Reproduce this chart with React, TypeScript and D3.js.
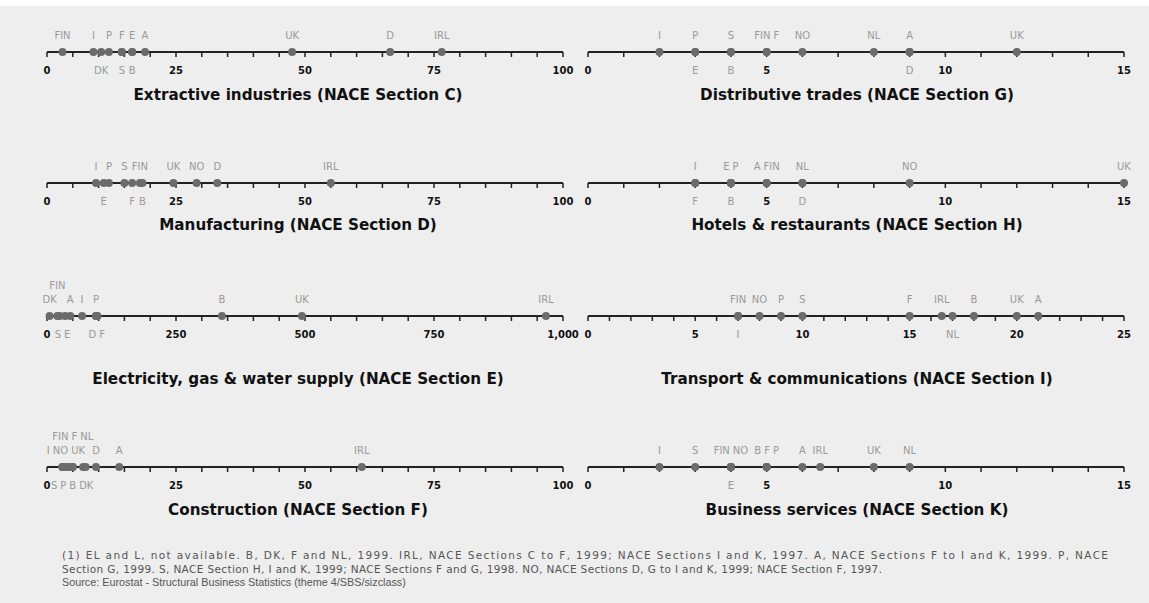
import React, { useEffect, useRef } from 'react'
import * as d3 from 'd3'

// label slot: 'a' = above the line, 'a2' = second row above, 'b' = below
type Slot = 'a' | 'a2' | 'b'
type Entry = [string, number, Slot]

const extractive: Entry[] = [
  ['FIN', 3, 'a'], ['I', 9, 'a'], ['DK', 10.5, 'b'], ['P', 12, 'a'],
  ['F', 14.5, 'a'], ['S', 14.5, 'b'], ['E', 16.5, 'a'], ['B', 16.5, 'b'],
  ['A', 19, 'a'], ['UK', 47.5, 'a'], ['D', 66.5, 'a'], ['IRL', 76.5, 'a'],
]

const distributive: Entry[] = [
  ['I', 2, 'a'], ['P', 3, 'a'], ['E', 3, 'b'], ['S', 4, 'a'], ['B', 4, 'b'],
  ['FIN', 5, 'a'], ['F', 5, 'a'], ['NO', 6, 'a'], ['NL', 8, 'a'],
  ['A', 9, 'a'], ['D', 9, 'b'], ['UK', 12, 'a'],
]

const manufacturing: Entry[] = [
  ['I', 9.5, 'a'], ['E', 11, 'b'], ['P', 12, 'a'], ['S', 15, 'a'],
  ['F', 16.5, 'b'], ['FIN', 18, 'a'], ['B', 18.5, 'b'], ['UK', 24.5, 'a'],
  ['NO', 29, 'a'], ['D', 33, 'a'], ['IRL', 55, 'a'],
]

const hotels: Entry[] = [
  ['I', 3, 'a'], ['F', 3, 'b'], ['E', 4, 'a'], ['P', 4, 'a'], ['B', 4, 'b'],
  ['A', 5, 'a'], ['FIN', 5, 'a'], ['NL', 6, 'a'], ['D', 6, 'b'],
  ['NO', 9, 'a'], ['UK', 15, 'a'],
]

const electricity: Entry[] = [
  ['DK', 5, 'a'], ['FIN', 20, 'a2'], ['S', 25, 'b'], ['E', 35, 'b'],
  ['A', 45, 'a'], ['I', 68, 'a'], ['P', 95, 'a'], ['D', 95, 'b'],
  ['F', 98, 'b'], ['B', 339, 'a'], ['UK', 494, 'a'], ['IRL', 967, 'a'],
]

const transport: Entry[] = [
  ['FIN', 7, 'a'], ['I', 7, 'b'], ['NO', 8, 'a'], ['P', 9, 'a'], ['S', 10, 'a'],
  ['F', 15, 'a'], ['IRL', 16.5, 'a'], ['NL', 17, 'b'], ['B', 18, 'a'],
  ['UK', 20, 'a'], ['A', 21, 'a'],
]

const construction: Entry[] = [
  ['I', 3, 'a'], ['NO', 3, 'a'], ['S', 3, 'b'], ['FIN', 3.5, 'a2'],
  ['P', 4, 'b'], ['F', 4.5, 'a2'], ['B', 5, 'b'], ['UK', 5, 'a'],
  ['NL', 7, 'a2'], ['DK', 7.5, 'b'], ['D', 9.5, 'a'], ['A', 14, 'a'],
  ['IRL', 61, 'a'],
]

const business: Entry[] = [
  ['I', 2, 'a'], ['S', 3, 'a'], ['FIN', 4, 'a'], ['NO', 4, 'a'], ['E', 4, 'b'],
  ['B', 5, 'a'], ['F', 5, 'a'], ['P', 5, 'a'], ['A', 6, 'a'],
  ['IRL', 6.5, 'a'], ['UK', 8, 'a'], ['NL', 9, 'a'],
]

const ticks100 = [0, 25, 50, 75, 100]
const ticks15 = [0, 5, 10, 15]
const ticks25 = [0, 5, 10, 15, 20, 25]
const ticks1000 = [0, 250, 500, 750, 1000]

const titles = [
  'Extractive industries (NACE Section C)',
  'Distributive trades (NACE Section G)',
  'Manufacturing (NACE Section D)',
  'Hotels & restaurants (NACE Section H)',
  'Electricity, gas & water supply (NACE Section E)',
  'Transport & communications (NACE Section I)',
  'Construction (NACE Section F)',
  'Business services (NACE Section K)',
]

const footnotes = [
  '(1) EL and L, not available. B, DK, F and NL, 1999. IRL, NACE Sections C to F, 1999; NACE Sections I and K, 1997. A, NACE Sections F to I and K, 1999. P, NACE',
  'Section G, 1999. S, NACE Section H, I and K, 1999; NACE Sections F and G, 1998. NO, NACE Sections D, G to I and K, 1999; NACE Section F, 1997.',
  'Source: Eurostat - Structural Business Statistics (theme 4/SBS/sizclass)',
]

const panels = [
  { title: titles[0], points: extractive, ticks: ticks100, minor: 5 },
  { title: titles[1], points: distributive, ticks: ticks15, minor: 1 },
  { title: titles[2], points: manufacturing, ticks: ticks100, minor: 5 },
  { title: titles[3], points: hotels, ticks: ticks15, minor: 1 },
  { title: titles[4], points: electricity, ticks: ticks1000, minor: 50 },
  { title: titles[5], points: transport, ticks: ticks25, minor: 1 },
  { title: titles[6], points: construction, ticks: ticks100, minor: 5 },
  { title: titles[7], points: business, ticks: ticks15, minor: 1 },
]

const W = 1149
const H = 603
const FONT = '"DejaVu Sans", Verdana, sans-serif'
const FOOT_FONT = '"Liberation Sans", Arial, sans-serif'

interface Lab {
  x0: number
  w: number
  x: number
}

// push overlapping labels apart along one row
function spread(items: Lab[], gap: number) {
  const sorted = [...items].sort((a, b) => a.x0 - b.x0)
  const clusters = sorted.map((m) => ({ members: [m], sum: m.x0, width: m.w }))
  let merged = true
  while (merged) {
    merged = false
    for (let i = 0; i < clusters.length - 1; i++) {
      const a = clusters[i]
      const b = clusters[i + 1]
      const ac = a.sum / a.members.length
      const bc = b.sum / b.members.length
      if (ac + a.width / 2 + gap > bc - b.width / 2) {
        clusters.splice(i, 2, {
          members: [...a.members, ...b.members],
          sum: a.sum + b.sum,
          width: a.width + gap + b.width,
        })
        merged = true
        break
      }
    }
  }
  clusters.forEach((c) => {
    let x = c.sum / c.members.length - c.width / 2
    c.members.forEach((m) => {
      m.x = x + m.w / 2
      x += m.w + gap
    })
  })
}

export default function App() {
  const svgRef = useRef<SVGSVGElement>(null)

  useEffect(() => {
    if (!svgRef.current) return
    const svg = d3.select(svgRef.current)
    svg.selectAll('*').remove()

    svg.append('rect').attr('x', 0).attr('y', 6).attr('width', W).attr('height', H - 6).attr('fill', '#eeeeee')

    const colX = [
      [47, 563],
      [588, 1124],
    ]
    const lineY = [52, 183, 316, 467]
    const titleY = [100, 230, 384, 515]
    const titleX = [298, 857]

    panels.forEach((p, i) => {
      const row = Math.floor(i / 2)
      const col = i % 2
      const max = p.ticks[p.ticks.length - 1]
      const x = d3.scaleLinear().domain([0, max]).range(colX[col])
      const y = lineY[row]
      const g = svg.append('g')

      // axis line and ticks
      g.append('line')
        .attr('x1', x(0)).attr('x2', x(max))
        .attr('y1', y).attr('y2', y)
        .attr('stroke', '#222').attr('stroke-width', 2)
      g.selectAll('line.tick')
        .data(d3.range(0, max + p.minor / 2, p.minor))
        .join('line')
        .attr('class', 'tick')
        .attr('x1', (d) => x(d)).attr('x2', (d) => x(d))
        .attr('y1', y).attr('y2', y + 5)
        .attr('stroke', '#222').attr('stroke-width', 1.5)
      g.selectAll('text.tl')
        .data(p.ticks)
        .join('text')
        .attr('class', 'tl')
        .attr('x', (d) => x(d))
        .attr('y', y + 22)
        .attr('text-anchor', 'middle')
        .attr('font-family', FONT)
        .attr('font-size', 10)
        .attr('font-weight', 700)
        .attr('fill', '#111')
        .text((d) => d3.format(',')(d))

      // dots
      g.selectAll('circle')
        .data(p.points)
        .join('circle')
        .attr('cx', (d) => x(d[1]))
        .attr('cy', y)
        .attr('r', 4)
        .attr('fill', '#6b6b6b')

      // country labels, de-overlapped per row
      const slotY: Record<Slot, number> = { a: y - 13, a2: y - 27, b: y + 22 }
      ;(['a', 'a2', 'b'] as Slot[]).forEach((slot) => {
        const pts = p.points.filter((d) => d[2] === slot)
        const texts = g.selectAll(`text.c${slot}`)
          .data(pts)
          .join('text')
          .attr('class', `c${slot}`)
          .attr('y', slotY[slot])
          .attr('text-anchor', 'middle')
          .attr('font-family', FONT)
          .attr('font-size', 10)
          .attr('fill', '#9a9a9a')
          .text((d) => d[0])
        const labs: Lab[] = []
        texts.each(function (d) {
          const w = (this as SVGTextElement).getComputedTextLength()
          labs.push({ x0: x(d[1]), w, x: x(d[1]) })
        })
        spread(labs, 3)
        texts.attr('x', (_d, j) => labs[j].x)
      })

      g.append('text')
        .attr('x', titleX[col])
        .attr('y', titleY[row])
        .attr('text-anchor', 'middle')
        .attr('font-family', FONT)
        .attr('font-size', 15.2)
        .attr('font-weight', 700)
        .attr('fill', '#111')
        .text(p.title)
    })

    // first two footnote lines are set to the widths seen in the source
    const footWidths = [1046, 820]
    svg.selectAll('text.fn')
      .data(footnotes)
      .join('text')
      .attr('class', 'fn')
      .attr('x', 62)
      .attr('y', (_d, i) => 559 + i * 13.5)
      .attr('font-family', (_d, i) => (i < 2 ? FONT : FOOT_FONT))
      .attr('font-size', (_d, i) => (i < 2 ? 10.5 : 10.8))
      .attr('fill', '#555')
      .each(function (_d, i) {
        if (i < 2) {
          d3.select(this).attr('textLength', footWidths[i]).attr('lengthAdjust', 'spacing')
        }
      })
      .text((d) => d)
  }, [])

  return (
    <svg
      ref={svgRef}
      width={W}
      height={H}
      style={{ position: 'absolute', left: 0, top: 0, background: '#fff' }}
    />
  )
}
